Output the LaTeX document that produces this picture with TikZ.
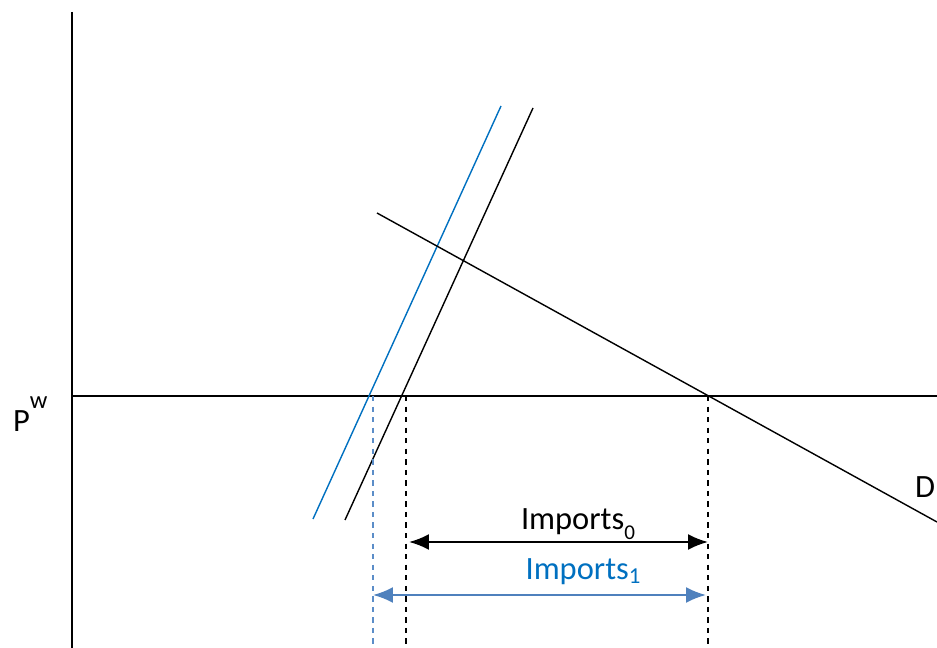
\documentclass[tikz,border=0pt]{standalone}
\usepackage{fontspec}
\setmainfont{Carlito}
\usetikzlibrary{arrows.meta}
\definecolor{ink}{HTML}{000000}
\definecolor{newblue}{HTML}{0070C0}
\definecolor{steel}{HTML}{4F81BD}
\definecolor{pale}{HTML}{5B8DC8}
\tikzset{curve/.style={thick,ink},
guide/.style={dashed,thick,ink},
span/.style={{Latex[length=4mm,width=3.2mm]}-{Latex[length=4mm,width=3.2mm]},very thick},
lab/.style={font=\fontsize{18.5}{20}\selectfont,inner sep=1pt}}

\begin{document}
\begin{tikzpicture}[x=0.02cm,y=-0.02cm]
\useasboundingbox (0,0) rectangle (937,648);
% axes and world price
\coordinate (top) at (72,12);
\coordinate (bot) at (72,648);
\coordinate (pwl) at (72,396);
\coordinate (pwr) at (937,396);
\draw[curve] (top)--(bot);
\draw[curve] (pwl)--(pwr);
\node[lab,anchor=base west] (pw) at (11,432) {P\raisebox{1.5ex}{\fontsize{14}{14}\selectfont w}};
% supply, old and new
\coordinate (s0a) at (345,520);
\coordinate (s0b) at (533,108);
\coordinate (s1a) at (313,519);
\coordinate (s1b) at (501,106);
\draw[curve] (s0a)--(s0b);
\draw[thick,newblue] (s1a)--(s1b);
% demand
\coordinate (da) at (377,213);
\coordinate (db) at (937,522);
\draw[curve] (da)--(db);
\node[lab,anchor=base west] (dlab) at (913,498) {D};
% import quantities
\coordinate (q1) at (373,396);
\coordinate (q0) at (406,396);
\coordinate (qd) at (708,396);
\draw[dashed,thick,pale] (q1)--(q1|-bot);
\draw[guide] (q0)--(q0|-bot);
\draw[guide] (qd)--(qd|-bot);
\coordinate (a0l) at (409,542);
\coordinate (a0r) at (708,542);
\draw[span,ink] (a0l)--(a0r);
\node[lab,anchor=base] (imp0) at (578,530) {Imports\raisebox{-0.6ex}{\fontsize{12}{12}\selectfont 0}};
\coordinate (a1l) at (373,595);
\coordinate (a1r) at (706,595);
\draw[span,steel] (a1l)--(a1r);
\node[lab,anchor=base,text=newblue] (imp1) at (583,580) {Imports\raisebox{-0.25ex}{\fontsize{13}{13}\selectfont 1}};
\end{tikzpicture}
\end{document}
